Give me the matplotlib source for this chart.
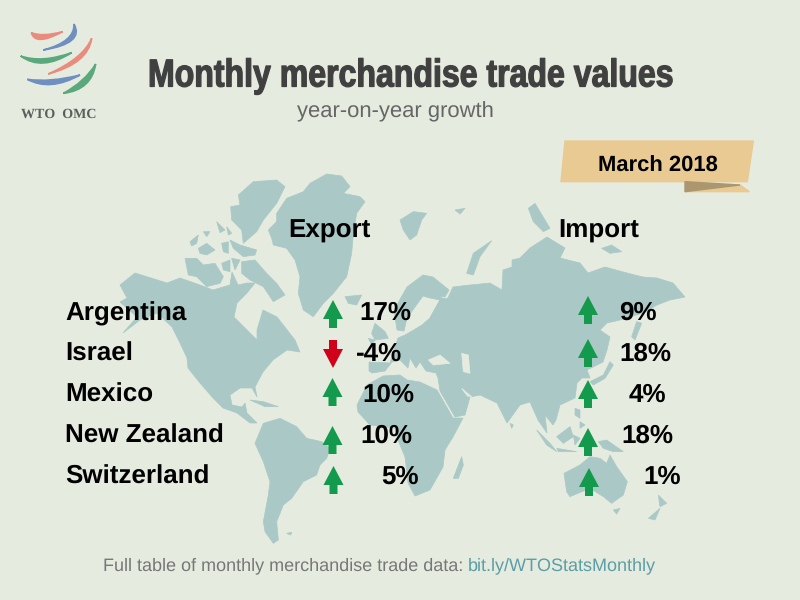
import matplotlib
matplotlib.use("Agg")
import matplotlib.pyplot as plt
import matplotlib.patheffects as pe
from matplotlib.patches import PathPatch
from matplotlib.path import Path
from matplotlib.transforms import Affine2D

plt.rcParams["text.hinting"] = "none"
plt.rcParams["text.hinting_factor"] = 1

# chart values
countries = ["Argentina", "Israel", "Mexico", "New Zealand", "Switzerland"]
export_growth = [17, -4, 10, 10, 5]
import_growth = [9, 18, 4, 18, 1]
month = "March 2018"

# layout, in pixels of the 800x600 picture
row_baseline = [320, 361, 402, 443, 484]
export_arrow_x = [333, 333, 332.5, 332.5, 333.5]
export_arrow_top = [300, 340, 378, 426, 466]
import_arrow_x = [588, 588, 588, 588, 589]
import_arrow_top = [296, 339, 380, 428, 468]
export_text_x = [359, 356, 362, 360, 381]
import_text_x = [619, 619, 629, 621, 643]

BG = "#e6ebdf"
LAND = "#aac9c6"
GREEN = "#149a4c"
RED = "#d0021b"
SANS = "Liberation Sans"

fig = plt.figure(figsize=(8, 6), dpi=100, facecolor=BG)
ax = fig.add_axes([0, 0, 1, 1])
ax.set_xlim(0, 800)
ax.set_ylim(600, 0)
ax.axis("off")


def crop(points, ox, oy):
    return [(ox + x / 3, oy + y / 3) for x, y in points]


def land(points, color=LAND):
    xs, ys = zip(*points)
    ax.fill(xs, ys, color=color, lw=0.5, zorder=1)


# north america and the islands above it
land([(120, 285), (135, 273), (167, 283), (180, 278), (200, 285), (213, 290), (230, 285), (232, 272),
      (238, 285), (247, 283), (255, 283), (247, 293), (237, 303), (234, 317), (247, 330), (257, 340),
      (257, 330), (263, 310), (277, 317), (295, 340), (300, 352), (287, 350), (273, 360), (263, 372),
      (255, 387), (257, 397), (252, 388), (240, 388), (230, 395), (232, 405), (242, 407), (245, 403),
      (247, 413), (257, 423), (250, 423), (237, 413), (223, 408), (213, 398), (200, 383), (188, 368),
      (187, 358), (180, 343), (172, 327), (157, 313), (140, 320), (123, 333), (137, 317), (120, 302),
      (127, 298)])
for shape in [
    # greenland
    [(505, 180), (530, 155), (530, 130), (560, 85), (610, 65), (630, 40), (680, 12), (725, 18), (750, 50),
     (730, 70), (780, 80), (795, 95), (770, 130), (760, 190), (755, 250), (740, 320), (700, 370), (670, 400),
     (640, 440), (610, 420), (595, 370), (600, 320), (585, 270), (560, 235), (520, 225), (515, 205)],
    # ellesmere, devon, baffin
    [(415, 75), (460, 35), (530, 30), (555, 50), (530, 100), (490, 150), (470, 185), (430, 220), (425, 180),
     (395, 150), (392, 110), (420, 105)],
    [(390, 210), (420, 225), (470, 240), (465, 255), (430, 260), (400, 235)],
    [(425, 275), (465, 270), (500, 310), (530, 340), (555, 375), (520, 395), (490, 350), (450, 330), (425, 310)],
    [(255, 265), (290, 265), (310, 285), (345, 280), (370, 320), (360, 340), (320, 350), (290, 320), (265, 315)],
    [(270, 215), (295, 195), (290, 220), (275, 228)],
    [(295, 235), (320, 220), (345, 240), (320, 255), (300, 250)],
    [(350, 155), (375, 180), (360, 188)],
    [(380, 170), (395, 190), (385, 195)],
    [(365, 220), (385, 215), (385, 250), (370, 245)],
    [(365, 280), (390, 270), (390, 305), (370, 300)],
    [(395, 265), (420, 270), (405, 300)],
    [(310, 185), (330, 185), (320, 200)],
    # iceland
    [(735, 380), (785, 375), (770, 405), (745, 400)],
]:
    land(crop(shape, 100, 170))

# south america, cuba
for shape in [
    [(465, 265), (490, 205), (540, 190), (590, 215), (620, 250), (665, 260), (690, 280), (680, 310), (660, 330),
     (650, 360), (610, 380), (575, 430), (550, 450), (530, 500), (535, 555), (520, 565), (495, 530), (490, 500),
     (505, 420), (510, 380), (490, 320)],
    [(450, 135), (490, 140), (535, 155), (495, 155)],
    [(560, 535), (575, 532), (572, 540)],
]:
    land(crop(shape, 100, 355))

# africa
land([(357, 405), (367, 385), (383, 376), (400, 375), (407, 380), (420, 382), (437, 390), (453, 418), (463, 418),
      (453, 437), (445, 450), (443, 467), (430, 490), (415, 496), (408, 483), (405, 457), (398, 440), (395, 428),
      (370, 425), (358, 412)])

# eurasia, south of the baltic first
land([(369, 371), (369, 362), (390, 363), (394, 350), (398, 338), (405, 335), (412, 331), (422, 325), (430, 318),
      (440, 300), (430, 298), (423, 296), (407, 318), (404, 331), (397, 330), (394, 310), (407, 287), (423, 275),
      (433, 277), (449, 290), (445, 297), (438, 296), (447, 300), (453, 287), (470, 285), (490, 283), (502, 290),
      (503, 270), (512, 267), (512, 260), (520, 258), (530, 248), (547, 237), (565, 248), (560, 258), (580, 263),
      (588, 273), (605, 267), (627, 273), (643, 277), (657, 278), (673, 283), (685, 297), (670, 300), (657, 305),
      (643, 313), (620, 320), (607, 323), (600, 330), (610, 337), (607, 350), (603, 362), (587, 370), (590, 378),
      (582, 378), (577, 383), (575, 398), (560, 405), (556, 420), (553, 425), (545, 415), (547, 433), (538, 420),
      (530, 402), (520, 405), (507, 423), (497, 403), (480, 395), (470, 397), (465, 415), (455, 417), (440, 391),
      (438, 378), (436, 373), (426, 371), (420, 362), (416, 368), (410, 358), (408, 368), (400, 360), (392, 362),
      (385, 371), (372, 373)])
land([(440, 300), (430, 318), (470, 320), (460, 295)])

# seas cut out of eurasia
for shape in [
    [(115, 30), (150, 15), (180, 40), (130, 45)],
    [(215, 10), (235, 15), (240, 70), (220, 65)],
    [(215, 115), (245, 140), (232, 138)],
]:
    land(crop(shape, 390, 350), BG)

# arctic islands and britain
for shape in [
    [(230, 250), (250, 190), (305, 152), (270, 200), (250, 255)],
    [(30, 90), (70, 65), (110, 70), (95, 90), (80, 135), (60, 150), (40, 120)],
    [(415, 55), (435, 40), (480, 115), (460, 125), (430, 95)],
    [(635, 175), (665, 165), (695, 185), (660, 190)],
    [(725, 440), (740, 395), (755, 400), (735, 450)],
    [(195, 60), (225, 55), (210, 72)],
]:
    land(crop(shape, 390, 190))
for shape in [
    [(215, 130), (225, 100), (255, 125), (265, 145), (225, 150)],
    [(205, 145), (225, 150), (215, 165)],
]:
    land(crop(shape, 300, 290))

# asia pacific, australia, madagascar
for shape in [
    [(600, 95), (640, 75), (660, 35), (670, 45), (645, 85), (610, 105)],
    [(555, 175), (570, 180), (570, 205), (555, 195)],
    [(570, 215), (585, 225), (570, 235)],
    [(500, 260), (540, 230), (550, 260), (520, 280)],
    [(440, 240), (480, 280), (500, 305), (470, 285)],
    [(500, 295), (560, 305), (505, 305)],
    [(550, 255), (570, 265), (555, 285)],
    [(625, 275), (650, 270), (700, 305), (670, 305), (640, 295)],
    [(805, 435), (830, 460), (810, 470)],
    [(775, 505), (810, 475), (795, 510)],
    [(670, 480), (690, 475), (680, 492)],
    [(522, 370), (570, 345), (600, 320), (630, 325), (650, 340), (660, 315), (680, 350), (712, 395), (700, 435),
     (665, 460), (640, 440), (600, 415), (540, 440), (530, 425)],
    [(360, 220), (370, 225), (365, 235)],
    [(190, 385), (215, 320), (220, 345), (205, 385)],
]:
    land(crop(shape, 390, 350))


# wto logo
def swoosh(a, c1, b, c2, color):
    pts = crop([a, c1, b, c2, a], 0, 0)
    codes = [Path.MOVETO, Path.CURVE3, Path.CURVE3, Path.CURVE3, Path.CURVE3]
    ax.add_patch(PathPatch(Path(pts, codes), fc=color, ec=color, lw=1.2, zorder=2))


LOGO_RED = "#e98c7e"
LOGO_BLUE = "#6f8fc0"
LOGO_GREEN = "#5aa97c"
swoosh((94, 98), (105, 140), (188, 95), (125, 112), LOGO_RED)
swoosh((130, 150), (255, 130), (222, 72), (225, 125), LOGO_BLUE)
swoosh((145, 222), (265, 190), (275, 115), (250, 175), LOGO_RED)
swoosh((62, 168), (125, 215), (215, 158), (125, 190), LOGO_GREEN)
swoosh((82, 238), (150, 275), (240, 225), (150, 248), LOGO_BLUE)
swoosh((190, 280), (275, 270), (287, 192), (255, 245), LOGO_GREEN)
ax.text(58.5, 118, "WTO  OMC", family="Liberation Serif", weight="bold", fontsize=10, color="#5a5f5c",
        ha="center", va="baseline", zorder=3)


class Squeeze(pe.AbstractPathEffect):
    # narrows a text around x0 and thickens it, no condensed face is installed
    def __init__(self, x0, factor, stroke):
        super().__init__()
        self.x0 = x0
        self.factor = factor
        self.stroke = stroke

    def draw_path(self, renderer, gc, tpath, affine, rgbFace=None):
        squeeze = Affine2D().translate(-self.x0, 0).scale(self.factor, 1).translate(self.x0, 0)
        gc0 = renderer.new_gc()
        gc0.copy_properties(gc)
        gc0.set_linewidth(self.stroke)
        gc0.set_foreground(rgbFace)
        renderer.draw_path(gc0, tpath, affine + squeeze, rgbFace)
        gc0.restore()


# titles
title = ax.text(411.5, 86.5, "Monthly merchandise trade values", family=SANS, weight="bold",
                fontsize=28, color="#404040", ha="center", va="baseline", zorder=3)
width = title.get_window_extent(fig.canvas.get_renderer()).width
title.set_path_effects([Squeeze(411.5, 527 / width, 0.9)])
ax.text(395, 117, "year-on-year growth", family=SANS, fontsize=15.7, color="#666666",
        ha="center", va="baseline", zorder=3)

# ribbon with the month
ax.fill(*zip(*crop([(75, 33), (640, 33), (622, 155), (63, 155)], 540, 130)), color="#e8ca92", zorder=2)
ax.fill(*zip(*crop([(600, 165), (628, 185), (435, 185)], 540, 130)), color="#e8ca92", zorder=2)
ax.fill(*zip(*crop([(435, 155), (600, 165), (435, 185)], 540, 130)), color="#ab9670", zorder=2)
ax.text(657.5, 171.5, month, family=SANS, weight="bold", fontsize=15.6, color="black",
        ha="center", va="baseline", zorder=3)

ax.text(329.5, 238, "Export", family=SANS, weight="bold", fontsize=18.4, color="black",
        ha="center", va="baseline", zorder=3)
ax.text(598.5, 238, "Import", family=SANS, weight="bold", fontsize=18.4, color="black",
        ha="center", va="baseline", zorder=3)


def arrow(x, top, value):
    # 20 wide, 28 tall, head takes the first 2/3
    if value >= 0:
        outline = [(0, 0), (10, 19), (4, 19), (4, 28), (-4, 28), (-4, 19), (-10, 19)]
        color = GREEN
    else:
        outline = [(0, 28), (10, 9), (4, 9), (4, 0), (-4, 0), (-4, 9), (-10, 9)]
        color = RED
    ax.fill([x + p[0] for p in outline], [top + p[1] for p in outline], color=color, lw=0, zorder=3)


for i, name in enumerate(countries):
    ax.text(65, row_baseline[i], name, family=SANS, weight="bold", fontsize=18.6, color="black",
            ha="left", va="baseline", zorder=3)
    arrow(export_arrow_x[i], export_arrow_top[i], export_growth[i])
    arrow(import_arrow_x[i], import_arrow_top[i], import_growth[i])
    ax.text(export_text_x[i], row_baseline[i], f"{export_growth[i]}%", family=SANS, weight="bold", fontsize=18.6,
            color="black", ha="left", va="baseline", zorder=3)
    ax.text(import_text_x[i], row_baseline[i], f"{import_growth[i]}%", family=SANS, weight="bold", fontsize=18.6,
            color="black", ha="left", va="baseline", zorder=3)

# footer
ax.text(103, 570, "Full table of monthly merchandise trade data:", family=SANS, fontsize=13, color="#777777",
        ha="left", va="baseline", zorder=3)
ax.text(468, 570, "bit.ly/WTOStatsMonthly", family=SANS, fontsize=13, color="#5a9ea6",
        ha="left", va="baseline", zorder=3)

fig.savefig("out.png", dpi=100, facecolor=BG)
